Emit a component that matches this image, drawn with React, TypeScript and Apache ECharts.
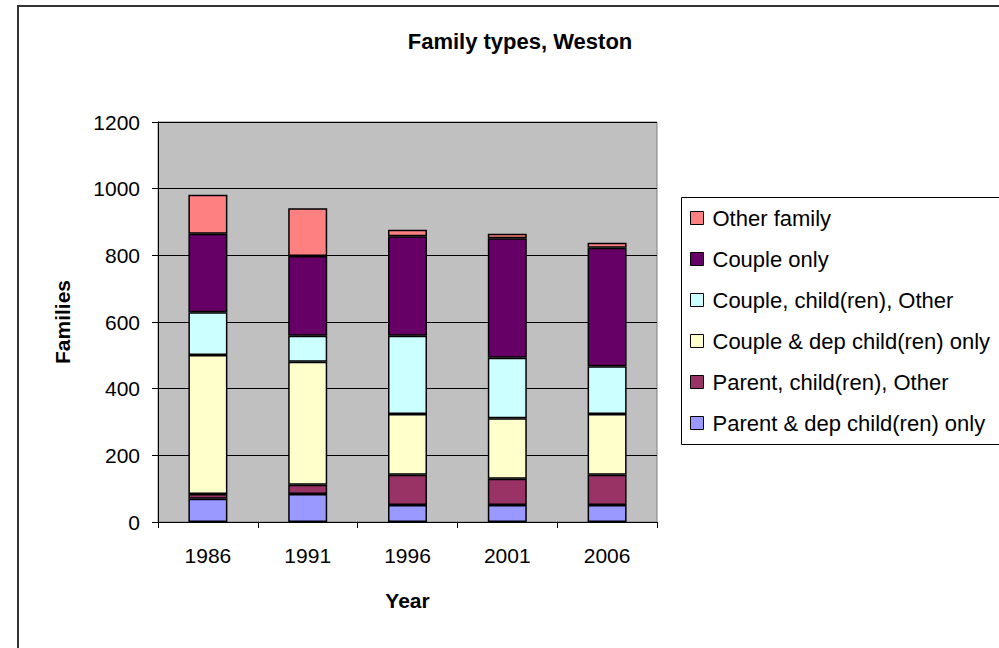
import React, { useEffect, useRef } from "react";
import * as echarts from "echarts";

const years = ["1986", "1991", "1996", "2001", "2006"];
const parentDep = [70, 84, 51, 51, 51];
const parentOther = [14, 28, 91, 79, 91];
const coupleDep = [417, 369, 182, 181, 182];
const coupleOther = [128, 78, 235, 182, 143];
const coupleOnly = [236, 239, 298, 358, 356];
const otherFamily = [117, 143, 20, 14, 15];

const seriesNames = [
  "Parent & dep child(ren) only",
  "Parent, child(ren), Other",
  "Couple & dep child(ren) only",
  "Couple, child(ren), Other",
  "Couple only",
  "Other family",
];
const seriesColors = ["#9999FF", "#993366", "#FFFFCC", "#CCFFFF", "#660066", "#FF8080"];
const seriesValues = [parentDep, parentOther, coupleDep, coupleOther, coupleOnly, otherFamily];

const FONT = "'Liberation Sans', Arial, sans-serif";

export default function App() {
  const ref = useRef<HTMLDivElement>(null);
  useEffect(() => {
    if (!ref.current) return;
    const chart = echarts.init(ref.current, undefined, { renderer: "svg" });
    chart.setOption({
      animation: false,
      backgroundColor: "#FFFFFF",
      textStyle: { fontFamily: FONT },
      title: {
        text: "Family types, Weston",
        left: 520,
        top: 30,
        textAlign: "center",
        padding: 0,
        textStyle: { fontFamily: FONT, fontSize: 22, fontWeight: "bold", color: "#000" },
      },
      grid: {
        left: 158,
        top: 122,
        width: 499,
        height: 400,
        show: true,
        backgroundColor: "#C0C0C0",
        borderColor: "#808080",
        borderWidth: 1,
      },
      legend: {
        data: seriesNames.slice().reverse(),
        orient: "vertical",
        left: 690,
        top: 207,
        padding: 0,
        itemWidth: 13,
        itemHeight: 13,
        itemGap: 19,
        icon: "rect",
        itemStyle: { borderColor: "#000", borderWidth: 1 },
        textStyle: { fontFamily: FONT, fontSize: 22, lineHeight: 22, color: "#000", padding: [0, 0, 0, 4] },
      },
      xAxis: {
        type: "category",
        data: years,
        name: "Year",
        nameLocation: "middle",
        nameGap: 68,
        nameTextStyle: { fontFamily: FONT, fontSize: 21, fontWeight: "bold", color: "#000" },
        axisLine: { show: true, lineStyle: { color: "#000", width: 1 } },
        axisTick: { show: true, length: 6, alignWithLabel: false, lineStyle: { color: "#000" } },
        axisLabel: { fontFamily: FONT, fontSize: 21, color: "#000", margin: 23 },
      },
      yAxis: {
        type: "value",
        min: 0,
        max: 1200,
        interval: 200,
        name: "Families",
        nameLocation: "middle",
        nameGap: 85,
        nameRotate: 90,
        nameTextStyle: { fontFamily: FONT, fontSize: 21, fontWeight: "bold", color: "#000" },
        axisLine: { show: true, lineStyle: { color: "#000", width: 1 } },
        axisTick: { show: true, length: 6, lineStyle: { color: "#000" } },
        axisLabel: {
          fontFamily: FONT,
          fontSize: 21,
          color: "#000",
          margin: 18,
          formatter: (v: number) => String(v),
        },
        splitLine: { show: true, lineStyle: { color: "#000", width: 1 } },
      },
      series: seriesNames.map((name, i) => ({
        name,
        type: "bar",
        stack: "total",
        barWidth: 39,
        data: seriesValues[i],
        itemStyle: { color: seriesColors[i], borderColor: "#000", borderWidth: 1.5 },
      })),
      graphic: [
        {
          type: "rect",
          shape: { x: 18, y: 6, width: 1100, height: 700 },
          style: { fill: "none", stroke: "#333333", lineWidth: 2 },
          silent: true,
        },
        {
          type: "rect",
          shape: { x: 681.5, y: 197.5, width: 400, height: 247 },
          style: { fill: "none", stroke: "#000000", lineWidth: 1 },
          silent: true,
        },
      ],
    });
    return () => chart.dispose();
  }, []);
  return (
    <div
      ref={ref}
      style={{ position: "fixed", left: 0, top: 0, width: 999, height: 648 }}
    />
  );
}
